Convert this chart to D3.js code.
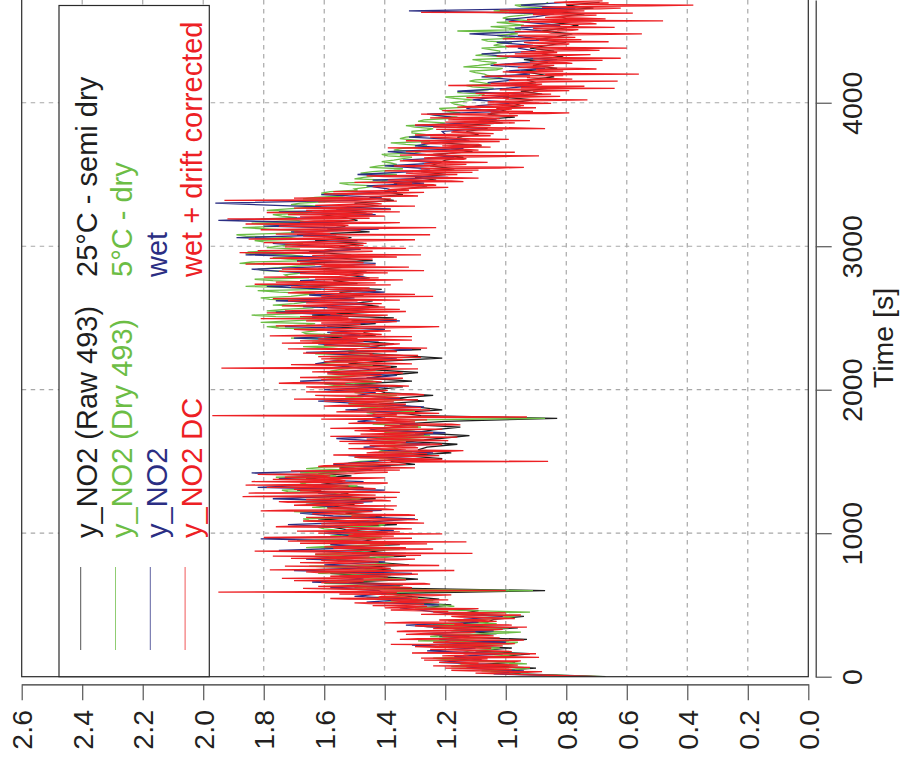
<!DOCTYPE html>
<html><head><meta charset="utf-8">
<script src="https://cdn.jsdelivr.net/npm/d3@7"></script>
<style>body{margin:0;background:#fff}svg{display:block}</style>
</head><body>
<svg id="chart" width="900" height="765"></svg>
<script>
const valueTicks = [0.0,0.2,0.4,0.6,0.8,1.0,1.2,1.4,1.6,1.8,2.0,2.2,2.4,2.6];
const timeTicks = [0,1000,2000,3000,4000];
const legendLabels = ["y_NO2 (Raw 493)","y_NO2 (Dry 493)","y_NO2","y_NO2 DC"];
const legendNotes = ["25°C - semi dry","5°C - dry","wet","wet + drift corrected"];
const seriesColors = ["#1e1e1e","#6cbd45","#2b2e83","#ed2024"];

// raw 493: samples every 20 s from t = 0
const raw493 = [
0.67,0.95,1.05,0.90,1.12,0.97,1.18,1.02,0.92,1.10,
0.98,1.20,1.07,0.93,1.22,1.03,1.15,0.96,1.24,1.06,
1.04,0.94,1.15,1.09,1.27,1.18,1.36,1.22,1.32,1.40,
0.87,1.46,1.34,1.52,1.29,1.44,1.58,1.37,1.49,1.32,
1.45,1.56,1.33,1.50,1.40,1.61,1.35,1.48,1.43,1.54,
1.39,1.51,1.57,1.36,1.47,1.62,1.41,1.53,1.44,1.59,
1.50,1.65,1.43,1.57,1.52,1.69,1.47,1.61,1.54,1.66,
1.51,1.62,1.44,1.55,1.30,1.38,1.21,1.34,1.18,1.29,
1.26,1.16,1.33,1.22,1.12,1.30,1.24,1.15,1.35,1.20,
0.83,1.28,1.36,1.21,1.30,1.42,1.27,1.37,1.24,1.40,
1.43,1.34,1.50,1.31,1.46,1.39,1.29,1.45,1.36,1.52,
1.40,1.21,1.35,1.52,1.28,1.45,1.37,1.49,1.60,1.43,
1.47,1.40,1.59,1.43,1.51,1.37,1.64,1.45,1.53,1.42,
1.50,1.44,1.61,1.47,1.55,1.41,1.66,1.49,1.57,1.45,
1.53,1.46,1.62,1.50,1.68,1.44,1.57,1.51,1.65,1.48,
1.55,1.47,1.63,1.51,1.69,1.45,1.59,1.53,1.64,1.49,
1.53,1.61,1.46,1.56,1.42,1.50,1.37,1.45,1.34,1.40,
1.33,1.26,1.37,1.23,1.30,1.20,1.28,1.17,1.25,1.22,
1.20,1.14,1.24,1.11,1.18,1.08,1.21,1.13,1.16,1.09,
1.13,1.06,1.16,1.01,1.09,0.97,1.06,1.00,1.03,0.95,
0.98,0.91,1.01,0.88,0.95,0.86,0.97,0.90,0.93,0.84,
0.89,0.95,0.83,0.91,0.86,0.94,0.81,0.88,0.84,0.92,
0.86,0.80,0.90,0.83,0.78,0.88,0.81,0.76,0.85,0.79,
0.82,0.74,0.87,0.71,0.80,0.69];

// dry 493: samples every 20 s from t = 0, and in-between samples from t = 10
const dry493 = [
0.68,0.98,1.08,0.92,1.15,1.00,1.20,1.06,0.95,1.12,
1.02,1.22,0.96,1.14,1.25,1.05,1.18,0.99,1.28,1.10,
1.08,0.97,1.20,1.12,1.30,1.21,1.40,1.27,1.36,1.45,
0.91,1.50,1.38,1.57,1.33,1.48,1.62,1.41,1.53,1.36,
1.49,1.60,1.37,1.55,1.44,1.66,1.39,1.52,1.47,1.58,
1.43,1.55,1.62,1.40,1.51,1.67,1.45,1.58,1.48,1.64,
1.55,1.70,1.48,1.62,1.57,1.74,1.52,1.66,1.59,1.71,
1.56,1.68,1.50,1.60,1.42,1.48,1.36,1.45,1.31,1.40,
1.37,1.29,1.43,1.33,1.25,1.40,1.35,1.28,1.44,1.32,
0.87,1.38,1.46,1.33,1.41,1.52,1.39,1.47,1.36,1.50,
1.53,1.46,1.60,1.44,1.57,1.50,1.41,1.55,1.48,1.62,
1.49,1.58,1.43,1.61,1.52,1.67,1.48,1.59,1.71,1.54,
1.67,1.60,1.79,1.63,1.71,1.57,1.84,1.65,1.73,1.62,
1.70,1.64,1.81,1.67,1.75,1.61,1.86,1.69,1.77,1.65,
1.73,1.66,1.82,1.70,1.88,1.64,1.77,1.71,1.85,1.68,
1.75,1.67,1.83,1.71,1.89,1.65,1.79,1.73,1.84,1.69,
1.69,1.77,1.64,1.72,1.61,1.68,1.56,1.63,1.52,1.58,
1.50,1.43,1.55,1.39,1.47,1.36,1.44,1.34,1.42,1.38,
1.37,1.31,1.41,1.28,1.35,1.26,1.38,1.30,1.33,1.27,
1.31,1.24,1.33,1.20,1.27,1.16,1.25,1.19,1.22,1.14,
1.18,1.11,1.20,1.07,1.14,1.04,1.13,1.08,1.10,1.03,
1.07,1.12,1.01,1.09,1.03,1.11,0.99,1.06,1.02,1.08,
1.04,0.98,1.08,1.01,0.96,1.16,0.99,0.94,1.03,0.97,
0.99,0.91,1.04,0.88,0.97,0.86];
const dry493Mid = [
0.84,1.03,0.97,1.18,0.93,1.10,1.24,0.99,1.14,1.05,
1.17,0.98,1.29,1.08,1.21,0.95,1.16,1.26,1.03,1.19,
1.00,1.13,0.92,1.25,1.17,1.34,1.24,1.46,1.31,1.40,
1.44,1.35,1.60,1.45,1.52,1.38,1.56,1.47,1.65,1.42,
1.54,1.43,1.63,1.50,1.35,1.58,1.48,1.69,1.41,1.53,
1.50,1.60,1.42,1.55,1.65,1.47,1.53,1.70,1.44,1.57,
1.63,1.51,1.67,1.55,1.72,1.60,1.49,1.68,1.56,1.76,
1.62,1.53,1.66,1.46,1.52,1.39,1.50,1.34,1.42,1.36,
1.42,1.33,1.27,1.46,1.37,1.30,1.43,1.32,1.39,1.28,
1.35,1.43,1.30,1.48,1.37,1.45,1.34,1.53,1.42,1.47,
1.49,1.57,1.43,1.52,1.62,1.45,1.58,1.51,1.44,1.56,
1.55,1.46,1.63,1.50,1.57,1.45,1.64,1.53,1.60,1.66,
1.63,1.75,1.66,1.81,1.60,1.76,1.68,1.79,1.64,1.77,
1.66,1.78,1.71,1.63,1.82,1.68,1.74,1.64,1.83,1.72,
1.69,1.80,1.75,1.63,1.84,1.72,1.67,1.86,1.74,1.79,
1.71,1.80,1.68,1.86,1.75,1.70,1.87,1.77,1.66,1.81,
1.74,1.66,1.79,1.65,1.71,1.60,1.67,1.54,1.61,1.49,
1.46,1.52,1.41,1.50,1.42,1.48,1.37,1.45,1.36,1.41,
1.34,1.39,1.30,1.37,1.29,1.33,1.25,1.35,1.28,1.31,
1.26,1.30,1.22,1.29,1.19,1.23,1.15,1.21,1.12,1.17,
1.14,1.17,1.09,1.16,1.06,1.11,1.05,1.12,1.01,1.06,
1.10,1.03,1.14,1.05,1.08,1.00,1.10,1.02,1.05,0.99,
1.02,1.06,0.97,1.03,1.00,0.95,1.05,0.98,0.92,1.01,
0.94,0.98,0.90,0.95,0.87];

// wet: samples every 20 s from t = 0
const wet = [
0.71,1.04,0.94,1.13,1.00,1.22,1.08,1.17,1.01,1.26,
1.10,1.31,1.00,1.22,1.12,1.28,1.04,1.20,1.33,1.09,
1.14,1.01,1.19,1.27,1.35,1.22,1.46,1.31,1.50,1.40,
1.42,1.58,1.35,1.64,1.47,1.55,1.31,1.70,1.44,1.60,
1.40,1.66,1.52,1.33,1.75,1.46,1.58,1.38,1.81,1.49,
1.60,1.37,1.53,1.72,1.44,1.30,1.57,1.68,1.41,1.55,
1.66,1.44,1.77,1.51,1.62,1.40,1.82,1.58,1.47,1.75,
1.60,1.84,1.49,1.38,1.57,1.44,1.30,1.52,1.24,1.40,
1.47,1.25,1.41,1.56,1.33,1.20,1.45,1.37,1.29,1.49,
1.40,1.46,1.33,1.53,1.27,1.45,1.62,1.35,1.49,1.43,
1.60,1.39,1.55,1.68,1.46,1.36,1.59,1.44,1.52,1.63,
1.57,1.36,1.49,1.66,1.31,1.47,1.62,1.42,1.70,1.48,
1.59,1.40,1.73,1.48,1.35,1.64,1.54,1.76,1.45,1.67,
1.44,1.76,1.50,1.65,1.40,1.59,1.79,1.52,1.68,1.46,
1.50,1.71,1.84,1.58,1.43,1.69,1.53,1.86,1.61,1.48,
1.63,1.77,1.49,1.89,1.56,1.71,1.42,1.80,1.54,1.95,
1.64,1.43,1.75,1.38,1.69,1.96,1.50,1.41,1.61,1.36,
1.39,1.46,1.27,1.44,1.19,1.49,1.31,1.25,1.40,1.22,
1.34,1.17,1.27,1.39,1.14,1.30,1.24,1.12,1.32,1.20,
1.21,1.07,1.30,1.12,1.03,1.18,1.26,1.01,1.13,1.09,
0.96,1.11,1.03,0.94,1.16,1.00,0.90,1.06,0.97,1.08,
0.92,1.00,0.87,1.05,0.94,0.83,0.99,1.08,0.90,0.96,
0.91,1.03,0.86,0.95,1.12,0.88,0.97,0.82,0.93,1.00,
0.90,0.84,1.32,0.77,0.95,0.80];

// wet + drift corrected: samples every 10 s from t = 0, and in-between samples from t = 5
const wetDC = [
0.70,0.86,1.02,0.93,1.12,0.98,1.20,1.05,0.96,1.15,
1.22,0.95,1.10,1.28,0.99,1.14,0.90,1.19,1.03,1.25,
1.05,1.30,1.12,0.97,1.24,1.18,1.35,1.02,1.21,1.09,
1.28,1.10,1.33,1.01,1.19,1.26,0.98,1.14,1.31,1.07,
1.10,1.02,1.18,0.95,1.12,1.24,1.31,1.17,1.40,1.26,
1.33,1.45,1.22,1.38,1.52,1.29,1.41,1.18,1.47,1.95,
1.00,1.56,1.31,1.62,1.44,1.27,1.53,1.70,1.40,1.49,
1.58,1.35,1.47,1.66,1.17,1.52,1.41,1.73,1.36,1.55,
1.42,1.61,1.30,1.50,1.77,1.38,1.11,1.64,1.46,1.24,
1.33,1.52,1.45,1.68,1.13,1.59,1.41,1.80,1.37,1.50,
1.62,1.35,1.49,1.31,1.56,1.70,1.42,1.27,1.58,1.46,
1.38,1.66,1.51,1.33,1.60,1.44,1.72,1.40,1.55,1.36,
1.63,1.47,1.75,1.41,1.58,1.36,1.69,1.52,1.85,1.45,
1.61,1.43,1.79,1.52,1.67,1.39,1.84,1.55,1.48,1.73,
1.58,1.82,1.46,1.63,1.35,1.55,1.41,1.60,1.33,1.47,
0.86,1.42,1.28,1.50,1.22,1.37,1.46,1.19,1.33,1.52,
1.30,1.45,1.21,1.39,1.55,1.27,1.41,1.16,1.35,1.48,
1.24,1.43,1.32,1.58,1.29,1.40,1.18,1.47,1.36,1.26,
1.38,0.93,1.97,1.44,1.30,1.51,1.25,1.42,1.35,1.55,
1.33,1.48,1.60,1.29,1.45,1.38,1.63,1.31,1.50,1.41,
1.58,1.42,1.66,1.37,1.53,1.70,1.45,1.61,1.34,1.55,
1.41,1.59,1.36,1.52,1.45,1.94,1.38,1.57,1.31,1.49,
1.55,1.34,1.47,1.62,1.29,1.44,1.58,1.37,1.51,1.26,
1.43,1.60,1.35,1.53,1.68,1.40,1.49,1.31,1.64,1.45,
1.57,1.38,1.70,1.46,1.22,1.61,1.50,1.42,1.66,1.36,
1.52,1.68,1.39,1.56,1.44,1.73,1.35,1.59,1.47,1.64,
1.41,1.58,1.72,1.46,1.62,1.24,1.55,1.48,1.69,1.43,
1.60,1.45,1.66,1.38,1.57,1.76,1.49,1.63,1.42,1.55,
1.47,1.68,1.56,1.27,1.74,1.52,1.61,1.43,1.79,1.50,
1.62,1.44,1.71,1.55,1.28,1.66,1.49,1.82,1.57,1.45,
1.59,1.73,1.46,1.64,1.41,1.85,1.52,1.67,1.25,1.58,
1.70,1.48,1.63,1.23,1.75,1.55,1.43,1.68,1.50,1.92,
1.61,1.40,1.72,1.53,1.35,1.66,1.47,1.58,1.30,1.55,
1.44,1.62,1.93,1.38,1.51,1.29,1.46,1.35,1.57,1.32,
1.35,1.19,1.42,1.24,1.31,1.14,1.39,1.27,1.21,1.46,
1.16,1.33,1.25,1.09,1.28,0.94,1.37,1.13,1.24,1.18,
1.30,1.13,1.22,0.89,1.25,1.16,1.33,1.09,1.20,1.05,
1.21,1.09,1.28,1.02,1.17,1.13,1.25,1.05,1.19,1.10,
1.17,1.01,0.87,1.24,1.05,1.15,0.97,1.10,1.19,1.02,
1.08,0.96,1.28,0.79,0.91,1.09,1.03,1.16,0.94,1.06,
0.92,1.04,0.73,0.99,0.93,1.08,0.85,0.98,0.90,1.02,
0.64,0.83,1.19,0.88,0.94,0.63,0.97,0.86,0.92,0.81,
0.56,0.95,0.81,0.90,0.76,0.93,0.84,0.98,0.80,0.88,
0.85,0.62,0.92,0.79,0.97,0.83,0.88,0.75,0.60,0.99,
0.88,0.79,0.94,0.82,0.75,0.90,0.85,0.96,0.55,0.86,
0.83,0.76,0.91,0.79,0.86,0.70,0.84,0.48,0.93,0.74,
0.82,0.70,0.88,1.28,0.74,0.85,0.62,0.79,0.38,0.72,
0.84,0.68];
const wetDCMid = [
0.78,0.95,1.10,0.88,1.18,1.03,0.92,1.24,1.01,1.09,
0.97,1.27,1.06,0.89,1.21,1.12,1.31,0.98,1.16,1.05,
1.23,1.01,1.38,1.09,1.20,0.94,1.29,1.15,1.04,1.33,
1.12,1.36,1.05,1.24,0.93,1.30,1.17,1.40,1.03,1.22,
0.97,1.15,1.06,1.28,1.00,1.19,1.38,1.09,1.33,1.44,
1.27,1.50,1.35,1.19,1.58,1.42,1.24,1.55,1.36,1.49,
1.43,1.67,1.36,1.52,1.25,1.61,1.47,1.33,1.74,1.39,
1.51,1.29,1.62,1.44,1.78,1.38,1.56,1.22,1.49,1.68,
1.55,1.36,1.71,1.45,1.28,1.63,1.50,1.83,1.33,1.57,
1.60,1.40,1.26,1.54,1.72,1.46,1.31,1.65,1.52,1.21,
1.44,1.69,1.53,1.39,1.76,1.48,1.61,1.35,1.67,1.29,
1.57,1.43,1.30,1.64,1.49,1.81,1.37,1.59,1.46,1.70,
1.50,1.72,1.38,1.66,1.54,1.87,1.43,1.61,1.35,1.68,
1.70,1.49,1.58,1.86,1.42,1.64,1.53,1.77,1.40,1.60,
1.66,1.50,1.39,1.71,1.54,1.30,1.62,1.44,1.57,1.36,
1.35,1.21,1.48,1.30,1.57,1.26,1.43,1.14,1.39,1.29,
1.41,1.24,1.52,1.33,1.19,1.46,1.31,1.58,1.27,1.38,
1.34,1.50,1.21,1.45,1.37,1.15,1.52,1.30,1.43,1.61,
1.30,1.47,1.36,1.22,1.56,1.39,1.49,1.28,1.60,1.34,
1.52,1.37,1.44,1.70,1.35,1.56,1.27,1.47,1.66,1.39,
1.46,1.63,1.32,1.57,1.75,1.41,1.52,1.38,1.68,1.48,
1.55,1.34,1.64,1.43,1.29,1.58,1.46,1.71,1.39,1.60,
1.40,1.61,1.28,1.53,1.45,1.67,1.36,1.49,1.72,1.42,
1.56,1.38,1.74,1.47,1.31,1.62,1.54,1.78,1.41,1.58,
1.45,1.65,1.53,1.29,1.76,1.48,1.61,1.36,1.55,1.81,
1.61,1.44,1.58,1.79,1.33,1.65,1.51,1.40,1.74,1.56,
1.66,1.49,1.35,1.77,1.53,1.61,1.30,1.72,1.57,1.45,
1.48,1.71,1.55,1.83,1.43,1.63,1.34,1.58,1.80,1.51,
1.62,1.39,1.75,1.54,1.66,1.32,1.59,1.86,1.47,1.69,
1.51,1.78,1.36,1.64,1.57,1.88,1.44,1.60,1.33,1.73,
1.47,1.66,1.80,1.53,1.30,1.70,1.58,1.42,1.76,1.62,
1.56,1.81,1.40,1.65,1.52,1.86,1.35,1.61,1.74,1.45,
1.68,1.52,1.44,1.79,1.60,1.38,1.70,1.49,1.63,1.41,
1.55,1.36,1.49,1.70,1.42,1.33,1.60,1.27,1.45,1.39,
1.28,1.44,1.23,1.36,1.50,1.18,1.33,1.09,1.40,1.25,
1.29,1.11,1.40,1.21,1.02,1.32,1.19,1.27,1.06,1.35,
1.14,1.27,1.02,1.35,1.19,0.97,1.26,1.13,1.39,1.16,
1.08,1.26,1.15,1.33,0.99,1.22,1.11,1.30,1.04,1.18,
1.09,1.23,0.96,1.14,1.30,1.06,1.20,0.92,1.13,1.25,
1.00,1.14,0.87,1.05,1.21,0.98,0.90,1.12,1.01,0.85,
1.06,0.88,1.00,1.13,0.82,0.96,1.10,0.91,0.79,1.01,
0.95,0.74,0.90,1.05,0.85,0.99,0.78,0.93,1.07,0.87,
0.83,1.01,0.89,0.70,0.96,0.86,1.04,0.78,0.92,0.68,
0.91,0.80,1.03,0.72,0.87,0.95,0.69,0.90,0.82,1.00,
0.80,0.92,0.66,0.89,1.01,0.77,0.93,0.71,0.85,0.97,
0.78,0.90,0.64,0.95,0.81,0.72,0.99,0.84,0.67,0.87,
0.76,0.91,0.58,0.83,1.02,0.69,0.88,0.52,0.80,0.66,
0.78];

const FONT = "'Liberation Sans', Arial, Helvetica, sans-serif";
const svg = d3.select("#chart");
svg.append("rect").attr("width",900).attr("height",765).attr("fill","#fff");

const P = {left:21.7, right:808.3, top:0, bottom:676.7};
const vScale = d3.scaleLinear().domain([0,2.6]).range([P.right, P.left]);
const tScale = d3.scaleLinear().domain([0,4716]).range([P.bottom, P.top]);

const grid = svg.append("g").attr("stroke","#a8a8a8").attr("stroke-width",1.2).attr("stroke-dasharray","4.5,4.5");
grid.selectAll("line.v").data(valueTicks.filter(d=>d>0 && d<2.6)).join("line")
  .attr("x1",d=>vScale(d)).attr("x2",d=>vScale(d)).attr("y1",P.top).attr("y2",P.bottom);
grid.selectAll("line.h").data(timeTicks.filter(d=>d>0)).join("line")
  .attr("x1",P.left).attr("x2",P.right).attr("y1",d=>tScale(d)).attr("y2",d=>tScale(d));

svg.append("clipPath").attr("id","clip").append("rect")
  .attr("x",P.left).attr("y",-20).attr("width",P.right-P.left).attr("height",P.bottom+20);

function samples(arr, step, offset){ return arr.map((v,k)=>[offset + k*step, v]); }
const series = [
  samples(raw493,20,0),
  samples(dry493,20,0).concat(samples(dry493Mid,20,10)),
  samples(wet,20,0),
  samples(wetDC,10,0).concat(samples(wetDCMid,10,5))
].map(s => s.sort((a,b)=>a[0]-b[0]));

const line = d3.line().x(d=>vScale(d[1])).y(d=>tScale(d[0]));
const dataG = svg.append("g").attr("clip-path","url(#clip)");
series.forEach((pts,i)=>{
  dataG.append("path").attr("d", line(pts)).attr("fill","none")
    .attr("stroke", seriesColors[i]).attr("stroke-width",1.3);
});

svg.append("rect").attr("x",P.left).attr("y",-10).attr("width",P.right-P.left).attr("height",P.bottom+10)
  .attr("fill","none").attr("stroke","#2a2a2a").attr("stroke-width",1.2);

const vAxis = svg.append("g").attr("transform","translate(0,684.3)")
  .call(d3.axisBottom(vScale).tickValues(valueTicks).tickSize(16).tickSizeOuter(0).tickFormat(d3.format(".1f")));
vAxis.select(".domain").attr("stroke","#333").attr("stroke-width",1.2);
vAxis.selectAll(".tick line").attr("stroke","#555").attr("stroke-width",1.2);
vAxis.selectAll(".tick text").attr("x",0).attr("y",0).attr("dy","0.36em")
  .attr("transform","translate(0,25.7) rotate(-90)").attr("text-anchor","end")
  .attr("font-family",FONT).attr("font-size",28.5).attr("fill","#231f20");

const tAxis = svg.append("g").attr("transform","translate(815.7,0)")
  .call(d3.axisRight(tScale).tickValues(timeTicks).tickSize(16).tickSizeOuter(0).tickFormat(d3.format("d")));
tAxis.select(".domain").attr("stroke","#333").attr("stroke-width",1.2);
tAxis.selectAll(".tick line").attr("stroke","#555").attr("stroke-width",1.2);
tAxis.selectAll(".tick text").attr("x",0).attr("y",0).attr("dy",0)
  .attr("transform","translate(46,0) rotate(-90)").attr("text-anchor","middle")
  .attr("font-family",FONT).attr("font-size",28.5).attr("fill","#231f20");

svg.append("text").attr("transform","translate(893,338) rotate(-90)").attr("text-anchor","middle")
  .attr("font-family",FONT).attr("font-size",28.5).attr("fill","#231f20").text("Time [s]");

const lg = svg.append("g");
lg.append("rect").attr("x",59).attr("y",5.5).attr("width",150.3).attr("height",671.2)
  .attr("fill","#fff").attr("stroke","#2a2a2a").attr("stroke-width",1.2);
legendLabels.forEach((lab,i)=>{
  const lx = 80.7 + i*34.8;
  const bx = 96.7 + i*35;
  lg.append("line").attr("x1",lx).attr("x2",lx).attr("y1",567).attr("y2",650)
    .attr("stroke",seriesColors[i]).attr("stroke-width",1).attr("opacity",0.75);
  lg.append("text").attr("transform",`translate(${bx},538) rotate(-90)`).attr("text-anchor","start")
    .attr("font-family",FONT).attr("font-size",29).attr("fill",seriesColors[i]).text(lab);
  lg.append("text").attr("transform",`translate(${bx},277) rotate(-90)`).attr("text-anchor","start")
    .attr("font-family",FONT).attr("font-size",29).attr("fill",seriesColors[i]).text(legendNotes[i]);
});
</script>
</body></html>
